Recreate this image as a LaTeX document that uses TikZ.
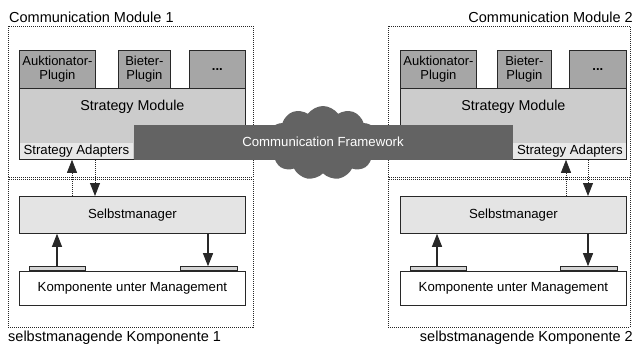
\documentclass[tikz,border=0pt]{standalone}
\usepackage{fontspec}
\setmainfont{Liberation Sans}
\usetikzlibrary{shapes.symbols,arrows.meta,calc}

\definecolor{plugfill}{RGB}{166,166,166}
\definecolor{stratfill}{RGB}{204,204,204}
\definecolor{adaptfill}{RGB}{232,232,232}
\definecolor{selbstfill}{RGB}{228,228,228}
\definecolor{platefill}{RGB}{212,212,212}
\definecolor{framefill}{RGB}{99,99,99}
\definecolor{edge}{RGB}{40,40,40}

\tikzset{
  boundary/.style={draw=black!85, line width=0.9pt, dash pattern=on 1pt off 1pt},
  block/.style={draw=edge, line width=0.8pt, inner sep=0pt, anchor=north west, align=center},
  plugbox/.style={block, fill=plugfill, font=\fontsize{13}{14}\selectfont},
  platebox/.style={block, fill=platefill, minimum height=4pt},
  caption/.style={font=\fontsize{14.5}{16}\selectfont, inner sep=0pt},
  title/.style={font=\fontsize{14.3}{16}\selectfont},
  flow/.style={draw=edge, line width=1.2pt, -{Triangle[width=10pt,length=13pt]}},
  signal/.style={draw=edge, line width=0.8pt, dash pattern=on 1pt off 1pt,
                 -{Triangle[width=10pt,length=13pt]}},
}

\begin{document}
\begin{tikzpicture}[x=1pt, y=-1pt, font=\fontsize{13.2}{15}\selectfont]
\useasboundingbox (0,0) rectangle (634,343);

% ---------- dotted boundaries ----------
\draw[boundary] (8,26) rectangle (253,177);
\draw[boundary] (8,179) rectangle (253,327);
\draw[boundary] (388,26) rectangle (630,177);
\draw[boundary] (388,179) rectangle (630,327);

\node[caption, anchor=base west] (cm1) at (9,22) {Communication Module 1};
\node[caption, anchor=base east] (cm2) at (633,22) {Communication Module 2};
\node[caption, anchor=base west] (sk1) at (8,341) {selbstmanagende Komponente 1};
\node[caption, anchor=base east] (sk2) at (633,341) {selbstmanagende Komponente 2};

% ---------- module 1 ----------
\node[plugbox, minimum width=76pt, minimum height=38pt] (ap1) at (19,50) {Auktionator-\\Plugin};
\node[plugbox, minimum width=52pt, minimum height=38pt] (bp1) at (118,50) {Bieter-\\Plugin};
\node[plugbox, minimum width=56pt, minimum height=38pt] (dp1) at (189,50) {\textbf{...}};
\node[block, fill=stratfill, draw=none, minimum width=226pt, minimum height=71pt] (st1) at (19,88) {};
\node[block, fill=adaptfill, draw=none, minimum width=114pt, minimum height=16pt] (sa1) at (19,143) {Strategy Adapters};
\draw[edge, line width=0.8pt] (st1.north west) rectangle (st1.south east);
\node[title] (stl1) at ($(st1.north)+(0,19)$) {Strategy Module};

% ---------- module 2 ----------
\node[plugbox, minimum width=76pt, minimum height=38pt] (ap2) at (400,50) {Auktionator-\\Plugin};
\node[plugbox, minimum width=54pt, minimum height=38pt] (bp2) at (497,50) {Bieter-\\Plugin};
\node[plugbox, minimum width=57pt, minimum height=38pt] (dp2) at (569,50) {\textbf{...}};
\node[block, fill=stratfill, draw=none, minimum width=226pt, minimum height=71pt] (st2) at (400,88) {};
\node[block, fill=adaptfill, draw=none, minimum width=113pt, minimum height=16pt] (sa2) at (513,143) {Strategy Adapters};
\draw[edge, line width=0.8pt] (st2.north west) rectangle (st2.south east);
\node[title] (stl2) at ($(st2.north)+(0,19)$) {Strategy Module};

% ---------- communication framework ----------
\node[cloud, cloud puffs=11, cloud puff arc=110, aspect=1.5, fill=framefill,
      minimum width=112pt, minimum height=74pt, inner sep=0pt] (cloud) at (323,143) {};
\fill[framefill] (sa1.north east |- 0,125) rectangle (sa2.south west);
\node[text=white] (cf) at (323,142) {Communication Framework};

% ---------- component 1 ----------
\node[block, fill=selbstfill, minimum width=226pt, minimum height=37pt] (sm1) at (19,196) {Selbstmanager};
\node[block, fill=white, minimum width=226pt, minimum height=34pt] (km1) at (19,271) {Komponente unter Management};
\node[platebox, minimum width=56pt, anchor=south west] (pl1) at (29,271) {};
\node[platebox, minimum width=57pt, anchor=south west] (pr1) at (180,271) {};
\draw[flow] (pl1.north -| 57,0) -- (sm1.south -| 57,0);
\draw[flow] (sm1.south -| 208,0) -- (pr1.north -| 208,0);
\draw[signal] (sm1.north -| 72,0) -- (sa1.south -| 72,0);
\draw[signal] (sa1.south -| 95,0) -- (sm1.north -| 95,0);

% ---------- component 2 ----------
\node[block, fill=selbstfill, minimum width=226pt, minimum height=37pt] (sm2) at (400,196) {Selbstmanager};
\node[block, fill=white, minimum width=226pt, minimum height=34pt] (km2) at (400,271) {Komponente unter Management};
\node[platebox, minimum width=56pt, anchor=south west] (pl2) at (410,271) {};
\node[platebox, minimum width=57pt, anchor=south west] (pr2) at (560,271) {};
\draw[flow] (pl2.north -| 437,0) -- (sm2.south -| 437,0);
\draw[flow] (sm2.south -| 588,0) -- (pr2.north -| 588,0);
\draw[signal] (sm2.north -| 566,0) -- (sa2.south -| 566,0);
\draw[signal] (sa2.south -| 588,0) -- (sm2.north -| 588,0);
\end{tikzpicture}
\end{document}
